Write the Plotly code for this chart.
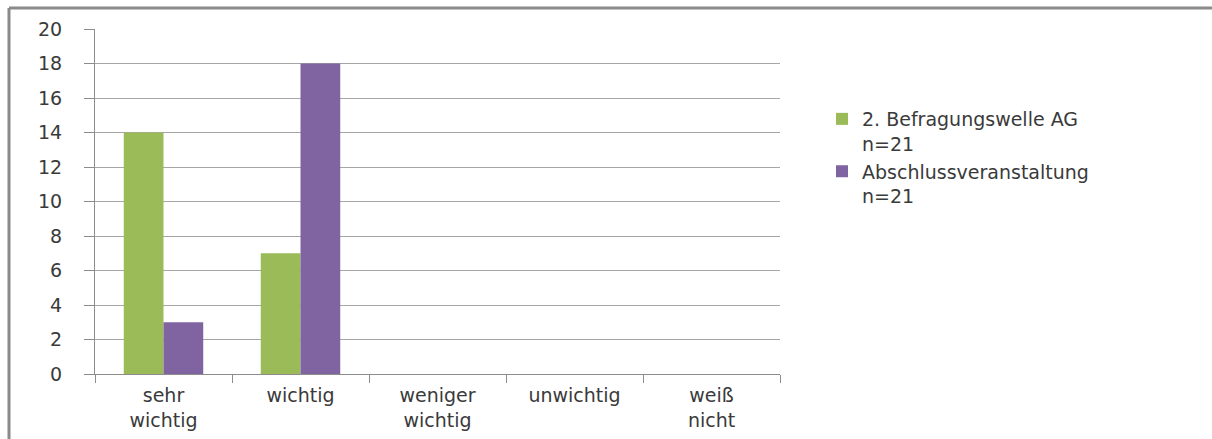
import plotly.graph_objects as go

categories = ["sehr<br>wichtig", "wichtig", "weniger<br>wichtig", "unwichtig", "weiß<br>nicht"]
welle2_ag = [14, 7, 0, 0, 0]
abschluss = [3, 18, 0, 0, 0]
series_names = ["2. Befragungswelle AG<br>n=21", "Abschlussveranstaltung<br>n=21"]
y_ticks = [0, 2, 4, 6, 8, 10, 12, 14, 16, 18, 20]

FONT = "DejaVu Sans"
FS = 19
TEXT = "#3a3a3a"
AXIS = "#8c8c8c"

fig = go.Figure()
fig.add_trace(go.Bar(x=categories, y=welle2_ag, name=series_names[0],
                     marker=dict(color="#9BBB59", line=dict(width=0))))
fig.add_trace(go.Bar(x=categories, y=abschluss, name=series_names[1],
                     marker=dict(color="#8064A2", line=dict(width=0))))

# pixel -> paper coordinate helpers for the plot area
px_w, px_h = 685, 345
def fx(px):
    return (px - 95) / px_w
def fy(py):
    return (374 - py) / px_h

fig.update_layout(
    width=1212, height=439,
    margin=dict(l=95, r=432, t=29, b=65, autoexpand=False),
    paper_bgcolor="white", plot_bgcolor="white",
    barmode="group", bargap=0.42, bargroupgap=0,
    font=dict(family=FONT, size=FS, color=TEXT),
    showlegend=True,
    legend=dict(x=fx(822), y=fy(100), xanchor="left", yanchor="top",
                font=dict(family=FONT, size=FS, color=TEXT),
                valign="top", tracegroupgap=10, itemwidth=30,
                bgcolor="rgba(0,0,0,0)"),
    xaxis=dict(type="category", showline=True, linecolor=AXIS, linewidth=1,
               ticks="outside", tickson="boundaries", ticklen=8, tickcolor=AXIS,
               ticklabelstandoff=4, automargin=False,
               showgrid=False, tickfont=dict(family=FONT, size=FS, color=TEXT)),
    yaxis=dict(range=[0, 20], tickvals=y_ticks, showline=True, linecolor=AXIS,
               linewidth=1, ticks="outside", ticklen=10, tickcolor=AXIS,
               ticklabelstandoff=18, automargin=False,
               showgrid=True, gridcolor="#a6a6a6", gridwidth=1, zeroline=False,
               tickfont=dict(family=FONT, size=FS, color=TEXT)),
    shapes=[
        dict(type="line", xref="paper", yref="paper", x0=fx(9), x1=fx(1212),
             y0=fy(8), y1=fy(8), line=dict(color="#8a8a8a", width=3)),
        dict(type="line", xref="paper", yref="paper", x0=fx(9), x1=fx(9),
             y0=fy(8), y1=fy(439), line=dict(color="#8a8a8a", width=3)),
    ],
)

fig.write_html("out.html")
